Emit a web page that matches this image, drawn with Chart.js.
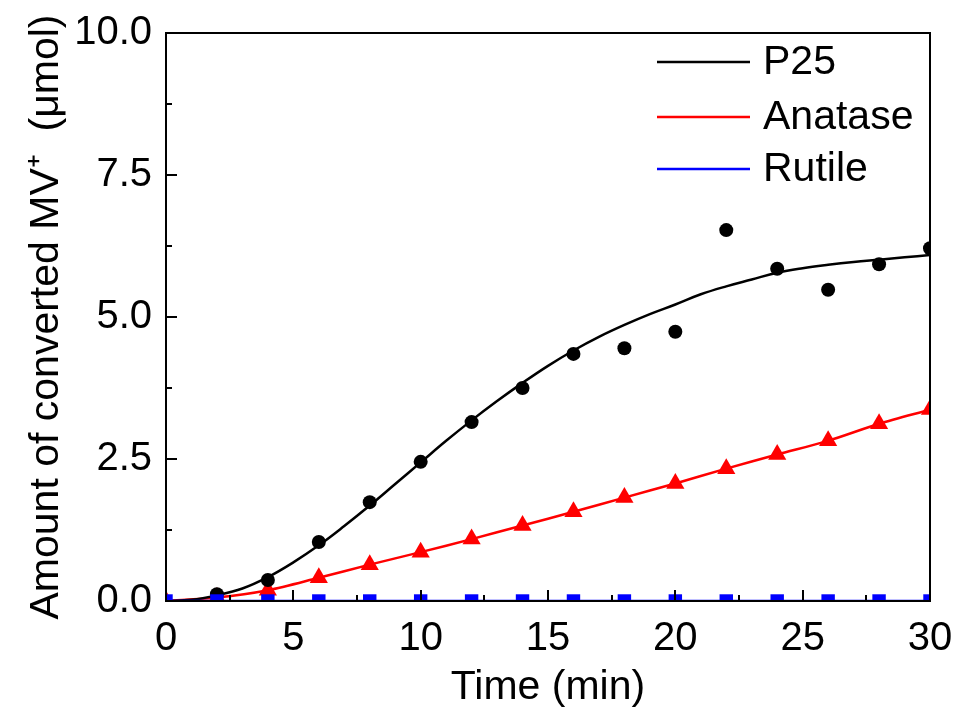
<!DOCTYPE html>
<html>
<head>
<meta charset="utf-8">
<script src="https://cdn.jsdelivr.net/npm/chart.js@4.4.1/dist/chart.umd.min.js"></script>
<style>
  html, body { margin: 0; padding: 0; background: #fff; }
  #wrap { width: 955px; height: 712px; }
</style>
</head>
<body>
<div id="wrap"><canvas id="chart" width="955" height="712"></canvas></div>
<script>
// fitted curve for P25, every minute
const fitTimes = [0, 1, 2, 3, 4, 5, 6, 7, 8, 9, 10, 11, 12, 13, 14, 15,
                  16, 17, 18, 19, 20, 21, 22, 23, 24, 25, 26, 27, 28, 29, 30];
const p25Fit = [0, 0.02, 0.1, 0.22, 0.42, 0.68, 0.98, 1.32, 1.68, 2.06, 2.44,
                2.82, 3.18, 3.52, 3.84, 4.14, 4.41, 4.65, 4.86, 5.05, 5.22,
                5.40, 5.54, 5.66, 5.78, 5.86, 5.92, 5.97, 6.01, 6.05, 6.09];

// measured points
const sampleTimes = [0, 2, 4, 6, 8, 10, 12, 14, 16, 18, 20, 22, 24, 26, 28, 30];
const p25Points = [null, 0.12, 0.37, 1.04, 1.74, 2.45, 3.15, 3.75, 4.35, 4.45,
                   4.74, 6.53, 5.85, 5.48, 5.93, 6.21];
const anatasePoints = [0, 0.06, 0.19, 0.41, 0.64, 0.86, 1.09, 1.33, 1.57, 1.82,
                       2.07, 2.33, 2.58, 2.82, 3.12, 3.37];
const rutilePoints = [0, 0, 0, 0, 0, 0, 0, 0, 0, 0, 0, 0, 0, 0, 0, 0];

const seriesNames = ['P25', 'Anatase', 'Rutile'];
const seriesColors = ['#000000', '#ff0000', '#0000ff'];

const xTitle = 'Time (min)';
const yTitle = 'Amount of converted MV\u207A  (\u03BCmol)';

const FONT = "'Liberation Sans', Arial, sans-serif";

const toXY = (xs, ys) => xs.map((x, i) => ({ x: x, y: ys[i] })).filter(p => p.y !== null);

// inward ticks + box frame, like the Origin plot
const frameTicks = {
    id: 'frameTicks',
    afterDatasetsDraw(chart) {
        const { ctx, chartArea: a, scales } = chart;
        ctx.save();
        ctx.strokeStyle = '#000';
        ctx.lineWidth = 2;
        const xs = scales.x, ys = scales.y;
        const xStep = 5, yStep = 2.5;
        ctx.beginPath();
        for (let v = 0; v <= 30 + 1e-6; v += xStep / 2) {
            const px = Math.round(xs.getPixelForValue(v));
            const major = Math.abs(v / xStep - Math.round(v / xStep)) < 1e-6;
            const len = major ? 11 : 6;
            ctx.moveTo(px, a.bottom);
            ctx.lineTo(px, a.bottom - len);
        }
        for (let v = 0; v <= 10 + 1e-6; v += yStep / 2) {
            const py = Math.round(ys.getPixelForValue(v));
            const major = Math.abs(v / yStep - Math.round(v / yStep)) < 1e-6;
            const len = major ? 11 : 6;
            ctx.moveTo(a.left, py);
            ctx.lineTo(a.left + len, py);
        }
        ctx.stroke();
        ctx.strokeRect(a.left, a.top, a.right - a.left, a.bottom - a.top);
        ctx.restore();
    }
};

// legend with plain line samples inside the plot
const lineLegend = {
    id: 'lineLegend',
    afterDraw(chart) {
        const { ctx } = chart;
        ctx.save();
        ctx.font = '41px ' + FONT;
        ctx.textBaseline = 'middle';
        ctx.textAlign = 'left';
        const rows = [62, 117, 169];
        seriesNames.forEach((name, i) => {
            ctx.strokeStyle = seriesColors[i];
            ctx.lineWidth = 2.5;
            ctx.beginPath();
            ctx.moveTo(657, rows[i]);
            ctx.lineTo(750, rows[i]);
            ctx.stroke();
            ctx.fillStyle = '#000';
            ctx.fillText(name, 763, rows[i] + 1);
        });
        ctx.restore();
    }
};

const ctx = document.getElementById('chart').getContext('2d');
new Chart(ctx, {
    type: 'line',
    data: {
        datasets: [
            {
                label: 'Rutile',
                data: toXY(sampleTimes, rutilePoints),
                borderColor: seriesColors[2],
                backgroundColor: seriesColors[2],
                borderWidth: 2.5,
                pointStyle: 'rect',
                pointRadius: 9.5,
                pointBorderWidth: 0,
                order: 0
            },
            {
                label: 'P25',
                data: toXY(sampleTimes, p25Points),
                showLine: false,
                backgroundColor: seriesColors[0],
                borderColor: seriesColors[0],
                pointStyle: 'circle',
                pointRadius: 7,
                pointBorderWidth: 0,
                order: 1
            },
            {
                label: 'P25 fit',
                data: toXY(fitTimes, p25Fit),
                borderColor: seriesColors[0],
                borderWidth: 2.5,
                pointRadius: 0,
                tension: 0.4,
                order: 2
            },
            {
                label: 'Anatase',
                data: toXY(sampleTimes, anatasePoints),
                borderColor: seriesColors[1],
                backgroundColor: seriesColors[1],
                borderWidth: 2.5,
                pointStyle: 'triangle',
                pointRadius: 10.5,
                pointBorderWidth: 0,
                tension: 0.3,
                order: 3
            }
        ]
    },
    options: {
        responsive: false,
        animation: false,
        layout: { padding: { left: 0, top: 33, right: 25, bottom: 0 } },
        plugins: {
            legend: { display: false },
            tooltip: { enabled: false }
        },
        scales: {
            x: {
                type: 'linear',
                min: 0,
                max: 30,
                grid: { display: false },
                border: { display: false },
                ticks: {
                    stepSize: 5,
                    color: '#000',
                    padding: 6,
                    maxRotation: 0,
                    font: { family: FONT, size: 40 }
                },
                title: {
                    display: true,
                    text: xTitle,
                    color: '#000',
                    padding: { top: 2, bottom: 0 },
                    font: { family: FONT, size: 41 }
                },
                afterFit(scale) {
                    scale.height = 111;
                    scale.paddingLeft = 0;
                    scale.paddingRight = 0;
                }
            },
            y: {
                type: 'linear',
                min: 0,
                max: 10,
                grid: { display: false },
                border: { display: false },
                ticks: {
                    stepSize: 2.5,
                    color: '#000',
                    padding: 6,
                    font: { family: FONT, size: 40 },
                    callback: v => v.toFixed(1)
                },
                title: {
                    display: true,
                    text: yTitle,
                    color: '#000',
                    padding: { top: 22, bottom: 0 },
                    font: { family: FONT, size: 41 }
                },
                afterFit(scale) { scale.width = 166; }
            }
        }
    },
    plugins: [frameTicks, lineLegend]
});
</script>
</body>
</html>
